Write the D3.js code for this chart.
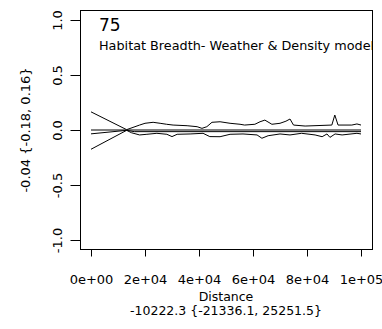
<!DOCTYPE html>
<html>
<head>
<meta charset="utf-8">
<script src="https://cdn.jsdelivr.net/npm/d3@7"></script>
<style>
  body { margin: 0; background: #fff; }
  text { font-family: "DejaVu Sans", sans-serif; fill: #000; }
</style>
</head>
<body>
<div id="chart"></div>
<script>
// distances in thousands
const upper_dist = [0, 13.2, 18, 20, 23, 25.6, 28, 30.4, 35.6, 39.3, 41.1, 42.9, 44.8, 47.8, 51.5, 55.2, 56.9, 60.7, 62.6, 64.4, 67, 70, 72.2, 73.7, 75, 79.3, 89.2, 90.3, 91.5, 96.6, 98.5, 100];
const upper_vals = [0.165, 0.003, 0.045, 0.061, 0.07, 0.061, 0.052, 0.045, 0.039, 0.03, 0.015, 0.03, 0.07, 0.075, 0.061, 0.052, 0.045, 0.052, 0.075, 0.09, 0.052, 0.061, 0.08, 0.1, 0.045, 0.036, 0.045, 0.136, 0.045, 0.045, 0.055, 0.045];

const lower_dist = [0, 13.2, 15, 18, 20.7, 24.4, 28.1, 30, 31.9, 36.7, 41.5, 44, 47.8, 51.5, 56.3, 61.5, 63.3, 65.6, 70, 73.7, 78, 83, 85.6, 87.4, 88.5, 90.4, 93, 98.5, 100];
const lower_vals = [-0.175, -0.003, -0.025, -0.045, -0.039, -0.03, -0.039, -0.06, -0.039, -0.036, -0.03, -0.06, -0.061, -0.039, -0.036, -0.045, -0.075, -0.052, -0.036, -0.045, -0.03, -0.045, -0.061, -0.036, -0.067, -0.036, -0.045, -0.03, -0.036];

const mean_dist = [0, 13.2, 16, 100];
const mean_vals = [-0.035, -0.003, -0.015, -0.015];

const zero_dist = [0, 100];
const zero_vals = [0, 0];

const x_ticks = [0, 20000, 40000, 60000, 80000, 100000];
const x_tick_labels = ["0e+00", "2e+04", "4e+04", "6e+04", "8e+04", "1e+05"];
const y_ticks = [-1, -0.5, 0, 0.5, 1];
const y_tick_labels = ["-1.0", "-0.5", "0.0", "0.5", "1.0"];

const panel_number = "75";
const panel_title = "Habitat Breadth- Weather & Density model";
const x_title = "Distance";
const x_sub = "-10222.3 {-21336.1, 25251.5}";
const y_title = "-0.04 {-0.18, 0.16}";

const width = 382, height = 329;
const box = { left: 80, top: 10, right: 372, bottom: 249 };

const svg = d3.select("#chart").append("svg")
  .attr("width", width)
  .attr("height", height);

const x = d3.scaleLinear().domain([0, 100000]).range([91, 361]);
const y = d3.scaleLinear().domain([-1, 1]).range([240, 20]);

svg.append("clipPath").attr("id", "plotclip")
  .append("rect")
  .attr("x", box.left).attr("y", box.top)
  .attr("width", box.right - box.left).attr("height", box.bottom - box.top);

const line = d3.line().x((d) => x(d[0] * 1000)).y((d) => y(d[1]));

function pairs(ds, vs) { return ds.map((d, i) => [d, vs[i]]); }

[[zero_dist, zero_vals], [mean_dist, mean_vals], [upper_dist, upper_vals], [lower_dist, lower_vals]]
  .forEach((s) => {
    svg.append("path")
      .attr("d", line(pairs(s[0], s[1])))
      .attr("fill", "none")
      .attr("stroke", "#000")
      .attr("stroke-width", 1);
  });

// box
svg.append("rect")
  .attr("x", box.left + 0.5).attr("y", box.top + 0.5)
  .attr("width", box.right - box.left).attr("height", box.bottom - box.top)
  .attr("fill", "none").attr("stroke", "#000");

// x axis
const xAxis = d3.axisBottom(x).tickValues(x_ticks)
  .tickFormat((d, i) => x_tick_labels[i]).tickSize(7).tickPadding(18);
const gx = svg.append("g").attr("transform", "translate(0," + (box.bottom + 0.5) + ")").call(xAxis);
gx.select(".domain").remove();
gx.selectAll("text").attr("font-size", 13).attr("font-family", "DejaVu Sans");

// y axis
const yAxis = d3.axisLeft(y).tickValues(y_ticks)
  .tickFormat((d, i) => y_tick_labels[i]).tickSize(10).tickPadding(0);
const gy = svg.append("g").attr("transform", "translate(" + (box.left + 0.5) + ",0)").call(yAxis);
gy.select(".domain").remove();
gy.selectAll("text")
  .attr("font-size", 13).attr("font-family", "DejaVu Sans")
  .attr("x", null).attr("dy", null)
  .attr("text-anchor", "middle")
  .attr("transform", "translate(-19,0) rotate(-90)");

// titles
svg.append("text").attr("x", (x(0) + x(100000)) / 2).attr("y", 301)
  .attr("text-anchor", "middle").attr("font-size", 12.5).text(x_title);
svg.append("text").attr("x", (x(0) + x(100000)) / 2).attr("y", 314.5)
  .attr("text-anchor", "middle").attr("font-size", 12.5).text(x_sub);
svg.append("text")
  .attr("transform", "translate(30," + y(0) + ") rotate(-90)")
  .attr("text-anchor", "middle").attr("font-size", 13).text(y_title);

const inner = svg.append("g").attr("clip-path", "url(#plotclip)");
inner.append("text").attr("x", 99).attr("y", 31).attr("font-size", 17).text(panel_number);
inner.append("text").attr("x", 99).attr("y", 50).attr("font-size", 12.8).text(panel_title);
</script>
</body>
</html>
